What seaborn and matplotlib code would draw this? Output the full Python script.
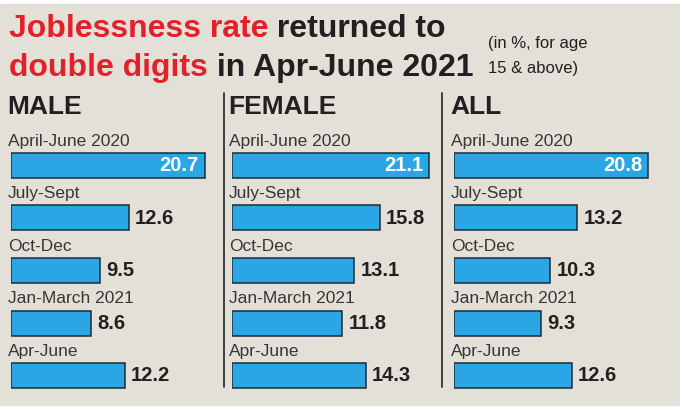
import matplotlib
matplotlib.use("Agg")
import matplotlib.pyplot as plt
from matplotlib.patches import Rectangle
import seaborn as sns
import pandas as pd

# Data (in %, for age 15 & above)
periods = ["April-June 2020", "July-Sept", "Oct-Dec", "Jan-March 2021", "Apr-June"]
male = [20.7, 12.6, 9.5, 8.6, 12.2]
female = [21.1, 15.8, 13.1, 11.8, 14.3]
all_persons = [20.8, 13.2, 10.3, 9.3, 12.6]
panel_titles = ["MALE", "FEMALE", "ALL"]

BG = "#e3e0d8"
BLUE = "#2aa6e4"
EDGE = "#1d2b3a"
RED = "#e3212b"
INK = "#231f20"
W, H = 680, 415

sns.set_theme(style="white")
plt.rcParams["font.family"] = ["Liberation Sans Narrow", "Liberation Sans", "DejaVu Sans"]

fig = plt.figure(figsize=(6.8, 4.15), dpi=100)
fig.patch.set_facecolor("white")
fig.patches.append(Rectangle((0, 1 - 405 / H), 1, (405 - 4) / H,
                             transform=fig.transFigure, color=BG, zorder=-5))


def fx(px):
    return px / W


def fy(py):
    return 1 - py / H


# Title, two colours per line
renderer = fig.canvas.get_renderer()


def colored_line(parts, x, y, size):
    for txt, col in parts:
        t = fig.text(fx(x), fy(y), txt, color=col, fontsize=size,
                     fontweight="bold", va="baseline", ha="left")
        bb = t.get_window_extent(renderer=renderer)
        x += bb.width


colored_line([("Joblessness rate", RED), (" returned to", INK)], 9, 37, 23)
colored_line([("double digits", RED), (" in Apr-June 2021", INK)], 9, 76, 23)
fig.text(fx(488), fy(48), "(in %, for age", color=INK, fontsize=12,
         va="baseline", ha="left")
fig.text(fx(488), fy(73), "15 & above)", color=INK, fontsize=12,
         va="baseline", ha="left")

# Panels
px_per_unit = 9.35
starts = [11, 232, 454]
row0, pitch = 165.5, 52.5
top_px, bot_px = 125, 400
xmax = 22.5

df = pd.DataFrame({"period": periods * 3,
                   "value": male + female + all_persons,
                   "group": sum([[g] * len(periods) for g in panel_titles], [])})

for left, title in zip(starts, panel_titles):
    ax = fig.add_axes([fx(left), fy(bot_px), fx(xmax * px_per_unit), (bot_px - top_px) / H])
    sub = df[df["group"] == title]
    sns.barplot(data=sub, x="value", y="period", orient="h", ax=ax, color=BLUE,
                edgecolor=EDGE, linewidth=1.1, width=25 / pitch, saturation=1)
    ax.set_xlim(0, xmax)
    ax.set_ylim((bot_px - row0) / pitch, (top_px - row0) / pitch)
    ax.axis("off")
    for i, (p, v) in enumerate(zip(sub["period"], sub["value"])):
        ax.text(-0.35, i - 0.46, p, fontsize=12.5, color="#363636",
                ha="left", va="center")
        if v > 20:
            ax.annotate(f"{v}", (v, i), xytext=(-6, 0), textcoords="offset pixels",
                        ha="right", va="center", color="white", fontsize=14.5,
                        fontweight="bold")
        else:
            ax.annotate(f"{v}", (v, i), xytext=(6, 0), textcoords="offset pixels",
                        ha="left", va="center", color=INK, fontsize=14.5,
                        fontweight="bold")
    fig.text(fx(left - 4), fy(107), title, fontsize=19, fontweight="bold",
             color=INK, ha="left", va="center")

# Separators between panels
for xs in [224, 442]:
    fig.add_artist(plt.Line2D([fx(xs), fx(xs)], [fy(93), fy(387)],
                              transform=fig.transFigure, color="#333333", lw=1.3))

fig.savefig("out.png", dpi=100, facecolor=fig.get_facecolor())
